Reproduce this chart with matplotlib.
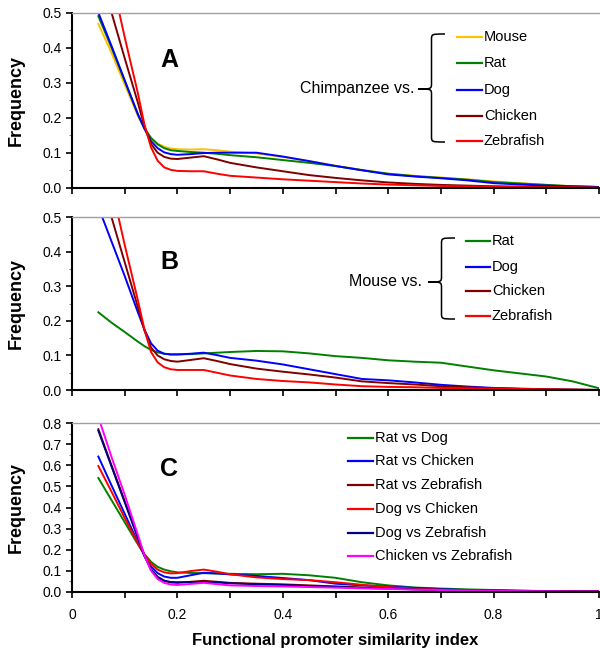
import numpy as np
import matplotlib
matplotlib.use("Agg")
import matplotlib.pyplot as plt
from matplotlib.path import Path
from matplotlib.patches import PathPatch
from matplotlib.lines import Line2D

plt.rcParams['font.family'] = ['Liberation Sans', 'DejaVu Sans']

# ---------------- data ----------------
x = [0.05, 0.075, 0.1, 0.125, 0.1375, 0.15, 0.1625, 0.175, 0.1875, 0.2, 0.225, 0.25, 0.275,
     0.3, 0.35, 0.4, 0.45, 0.5, 0.55, 0.6, 0.65, 0.7, 0.75, 0.8, 0.85, 0.9, 0.95, 1.0]

# Panel A: Chimpanzee vs.
a_labels = ["Mouse", "Rat", "Dog", "Chicken", "Zebrafish"]
a_mouse = [0.468, 0.385, 0.295, 0.205, 0.170, 0.142, 0.126, 0.117, 0.112, 0.110, 0.109, 0.110, 0.107,
           0.103, 0.098, 0.088, 0.076, 0.063, 0.051, 0.040, 0.034, 0.029, 0.024, 0.018, 0.013, 0.008,
           0.004, 0.002]
a_rat = [0.490, 0.400, 0.305, 0.210, 0.170, 0.142, 0.124, 0.113, 0.107, 0.105, 0.102, 0.100, 0.097,
         0.093, 0.087, 0.079, 0.071, 0.062, 0.050, 0.040, 0.033, 0.028, 0.023, 0.016, 0.012, 0.008,
         0.004, 0.002]
a_dog = [0.500, 0.405, 0.307, 0.210, 0.168, 0.133, 0.113, 0.101, 0.096, 0.094, 0.096, 0.099, 0.100,
         0.100, 0.100, 0.089, 0.076, 0.062, 0.050, 0.038, 0.032, 0.027, 0.021, 0.013, 0.009, 0.006,
         0.004, 0.002]
a_chicken = [0.630, 0.500, 0.370, 0.243, 0.175, 0.125, 0.100, 0.088, 0.083, 0.082, 0.086, 0.090, 0.081,
             0.071, 0.058, 0.047, 0.036, 0.028, 0.021, 0.015, 0.011, 0.008, 0.006, 0.004, 0.003, 0.002,
             0.001, 0.000]
a_zebrafish = [0.780, 0.600, 0.430, 0.270, 0.180, 0.115, 0.077, 0.058, 0.051, 0.048, 0.047, 0.047, 0.040,
               0.034, 0.029, 0.024, 0.020, 0.016, 0.012, 0.009, 0.007, 0.005, 0.004, 0.003, 0.002, 0.001,
               0.001, 0.000]

# Panel B: Mouse vs.
b_labels = ["Rat", "Dog", "Chicken", "Zebrafish"]
b_rat = [0.225, 0.195, 0.168, 0.140, 0.127, 0.116, 0.109, 0.105, 0.103, 0.103, 0.104, 0.106, 0.108,
         0.110, 0.113, 0.112, 0.106, 0.098, 0.093, 0.086, 0.082, 0.079, 0.068, 0.057, 0.048, 0.039,
         0.025, 0.005]
b_dog = [0.530, 0.430, 0.330, 0.225, 0.175, 0.135, 0.114, 0.105, 0.103, 0.103, 0.105, 0.108, 0.101,
         0.093, 0.085, 0.074, 0.060, 0.046, 0.032, 0.028, 0.022, 0.015, 0.010, 0.006, 0.004, 0.002,
         0.001, 0.000]
b_chicken = [0.630, 0.500, 0.370, 0.240, 0.172, 0.123, 0.100, 0.089, 0.084, 0.082, 0.087, 0.092, 0.084,
             0.075, 0.062, 0.053, 0.045, 0.036, 0.025, 0.020, 0.016, 0.011, 0.008, 0.005, 0.003, 0.002,
             0.001, 0.000]
b_zebrafish = [0.770, 0.590, 0.420, 0.260, 0.175, 0.110, 0.080, 0.066, 0.060, 0.058, 0.058, 0.058, 0.050,
               0.042, 0.032, 0.026, 0.022, 0.016, 0.011, 0.009, 0.008, 0.006, 0.005, 0.004, 0.003, 0.002,
               0.001, 0.000]

# Panel C: pairwise
c_labels = ["Rat vs Dog", "Rat vs Chicken", "Rat vs Zebrafish", "Dog vs Chicken",
            "Dog vs Zebrafish", "Chicken vs Zebrafish"]
c_rat_dog = [0.540, 0.435, 0.330, 0.225, 0.178, 0.142, 0.118, 0.105, 0.097, 0.092, 0.089, 0.088, 0.086,
             0.085, 0.083, 0.085, 0.078, 0.066, 0.045, 0.030, 0.020, 0.015, 0.011, 0.008, 0.005, 0.003,
             0.002, 0.001]
c_rat_chicken = [0.642, 0.505, 0.370, 0.235, 0.170, 0.120, 0.088, 0.072, 0.066, 0.066, 0.078, 0.090, 0.087,
                 0.082, 0.075, 0.065, 0.055, 0.038, 0.030, 0.024, 0.018, 0.012, 0.008, 0.006, 0.004, 0.003,
                 0.002, 0.001]
c_rat_zebrafish = [0.772, 0.600, 0.430, 0.260, 0.172, 0.105, 0.070, 0.052, 0.044, 0.042, 0.047, 0.052, 0.047,
                   0.042, 0.038, 0.035, 0.030, 0.025, 0.020, 0.016, 0.012, 0.009, 0.007, 0.005, 0.004, 0.003,
                   0.002, 0.001]
c_dog_chicken = [0.597, 0.475, 0.350, 0.230, 0.175, 0.132, 0.105, 0.092, 0.087, 0.088, 0.098, 0.105, 0.095,
                 0.083, 0.068, 0.060, 0.055, 0.045, 0.033, 0.022, 0.014, 0.009, 0.006, 0.004, 0.003, 0.002,
                 0.001, 0.001]
c_dog_zebrafish = [0.765, 0.595, 0.425, 0.255, 0.170, 0.105, 0.070, 0.052, 0.046, 0.045, 0.046, 0.047, 0.044,
                   0.040, 0.035, 0.032, 0.027, 0.023, 0.018, 0.015, 0.011, 0.008, 0.006, 0.004, 0.003, 0.002,
                   0.001, 0.001]
c_chicken_zebrafish = [0.830, 0.640, 0.460, 0.270, 0.172, 0.100, 0.060, 0.042, 0.034, 0.032, 0.037, 0.042,
                       0.036, 0.030, 0.027, 0.025, 0.022, 0.019, 0.016, 0.013, 0.010, 0.008, 0.006, 0.004,
                       0.003, 0.002, 0.001, 0.001]

x_ticks = [0, 0.1, 0.2, 0.3, 0.4, 0.5, 0.6, 0.7, 0.8, 0.9, 1.0]
x_ticklabels = ["0", "", "0.2", "", "0.4", "", "0.6", "", "0.8", "", "1"]

# ---------------- style ----------------
GOLD = "#FFC000"
GREEN = "#008000"
BLUE = "#0000FF"
DARKRED = "#800000"
RED = "#FF0000"
NAVY = "#000080"
MAGENTA = "#FF00FF"
LW = 1.4

W, H = 600, 651
fig = plt.figure(figsize=(6, 6.51), dpi=100)


def fx(px):
    return px / W


def fy(py):
    return 1 - py / H


def make_axes(top_px, bottom_px, ymax, ystep):
    ax = fig.add_axes([fx(72), fy(bottom_px), fx(599) - fx(72), fy(top_px) - fy(bottom_px)])
    ax.set_xlim(0, 1)
    ax.set_ylim(0, ymax)
    ax.spines['right'].set_visible(False)
    ax.spines['top'].set_color('#A0A0A0')
    ax.spines['top'].set_linewidth(1.0)
    ax.spines['left'].set_linewidth(1.5)
    ax.spines['bottom'].set_linewidth(1.5)
    ax.set_xticks(x_ticks)
    ax.set_yticks(np.arange(0, ymax + 1e-9, ystep))
    ax.set_yticks(np.arange(0, ymax + 1e-9, 0.05), minor=True)
    ax.yaxis.set_major_formatter(matplotlib.ticker.FormatStrFormatter('%.1f'))
    ax.tick_params(axis='both', which='major', direction='out', length=4, width=1.2,
                   labelsize=10, colors='black')
    ax.tick_params(axis='y', which='minor', direction='out', length=2.5, width=0.8,
                   color='#808080')
    ax.set_ylabel("Frequency", fontsize=13, fontweight='bold')
    return ax


def brace(tip_x, right_x, y_top, y_bot, y_tip):
    mid_x = (tip_x + right_x) / 2
    r = 6.0
    verts = [
        (right_x, y_top),
        (mid_x, y_top), (mid_x, y_top), (mid_x, y_top + r),
        (mid_x, y_tip - r),
        (mid_x, y_tip), (mid_x, y_tip), (tip_x, y_tip),
        (mid_x, y_tip), (mid_x, y_tip), (mid_x, y_tip + r),
        (mid_x, y_bot - r),
        (mid_x, y_bot), (mid_x, y_bot), (right_x, y_bot),
    ]
    codes = [Path.MOVETO,
             Path.CURVE4, Path.CURVE4, Path.CURVE4,
             Path.LINETO,
             Path.CURVE4, Path.CURVE4, Path.CURVE4,
             Path.CURVE4, Path.CURVE4, Path.CURVE4,
             Path.LINETO,
             Path.CURVE4, Path.CURVE4, Path.CURVE4]
    v = [(fx(a), fy(b)) for a, b in verts]
    p = PathPatch(Path(v, codes), transform=fig.transFigure, fill=False,
                  edgecolor='black', linewidth=1.1)
    fig.add_artist(p)


def legend_rows(x0, x1, ys, labels, colors, fs=10.5):
    for yy, lab, col in zip(ys, labels, colors):
        fig.add_artist(Line2D([fx(x0), fx(x1)], [fy(yy), fy(yy)], color=col, lw=1.6,
                              transform=fig.transFigure))
        fig.text(fx(x1 + 2), fy(yy), lab, fontsize=fs, va='center', ha='left')


# ---------------- panel A ----------------
axA = make_axes(12.7, 187.7, 0.5, 0.1)
a_series = [a_mouse, a_rat, a_dog, a_chicken, a_zebrafish]
a_colors = [GOLD, GREEN, BLUE, DARKRED, RED]
for ys, col in zip(a_series, a_colors):
    axA.plot(x, ys, color=col, lw=LW)
axA.set_xticklabels([])
fig.text(fx(169), fy(60), "A", fontsize=18, fontweight='bold', ha='center', va='center')
fig.text(fx(415), fy(89), "Chimpanzee vs.", fontsize=11.5, ha='right', va='center')
brace(418, 445, 34, 142, 89)
legend_rows(457, 482, [37.3, 63.3, 90, 115.7, 141], a_labels, a_colors)

# ---------------- panel B ----------------
axB = make_axes(217.3, 390, 0.5, 0.1)
b_series = [b_rat, b_dog, b_chicken, b_zebrafish]
b_colors = [GREEN, BLUE, DARKRED, RED]
for ys, col in zip(b_series, b_colors):
    axB.plot(x, ys, color=col, lw=LW)
axB.set_xticklabels([])
fig.text(fx(169.5), fy(262), "B", fontsize=18, fontweight='bold', ha='center', va='center')
fig.text(fx(422), fy(282), "Mouse vs.", fontsize=11.5, ha='right', va='center')
brace(428, 455, 238, 319, 282)
legend_rows(466, 490, [241, 266.7, 290.7, 316], b_labels, b_colors)

# ---------------- panel C ----------------
axC = make_axes(423.3, 591.7, 0.8, 0.1)
c_series = [c_rat_dog, c_rat_chicken, c_rat_zebrafish, c_dog_chicken, c_dog_zebrafish,
            c_chicken_zebrafish]
c_colors = [GREEN, BLUE, DARKRED, RED, NAVY, MAGENTA]
for ys, col in zip(c_series, c_colors):
    axC.plot(x, ys, color=col, lw=LW)
axC.set_xticklabels(x_ticklabels)
axC.tick_params(axis='x', pad=8)
axC.set_xlabel("Functional promoter similarity index", fontsize=12, fontweight='bold', labelpad=8)
fig.text(fx(169), fy(468.5), "C", fontsize=18, fontweight='bold', ha='center', va='center')
legend_rows(348, 373, [438.3, 461, 485, 509.3, 532.7, 555.7], c_labels, c_colors)

# align y labels (right edge of rotated label near x=25 px)
for ax in (axA, axB, axC):
    ax.yaxis.set_label_coords((fx(25) - fx(72)) / (fx(599) - fx(72)), 0.5)

fig.savefig("out.png", dpi=100, facecolor='white')
